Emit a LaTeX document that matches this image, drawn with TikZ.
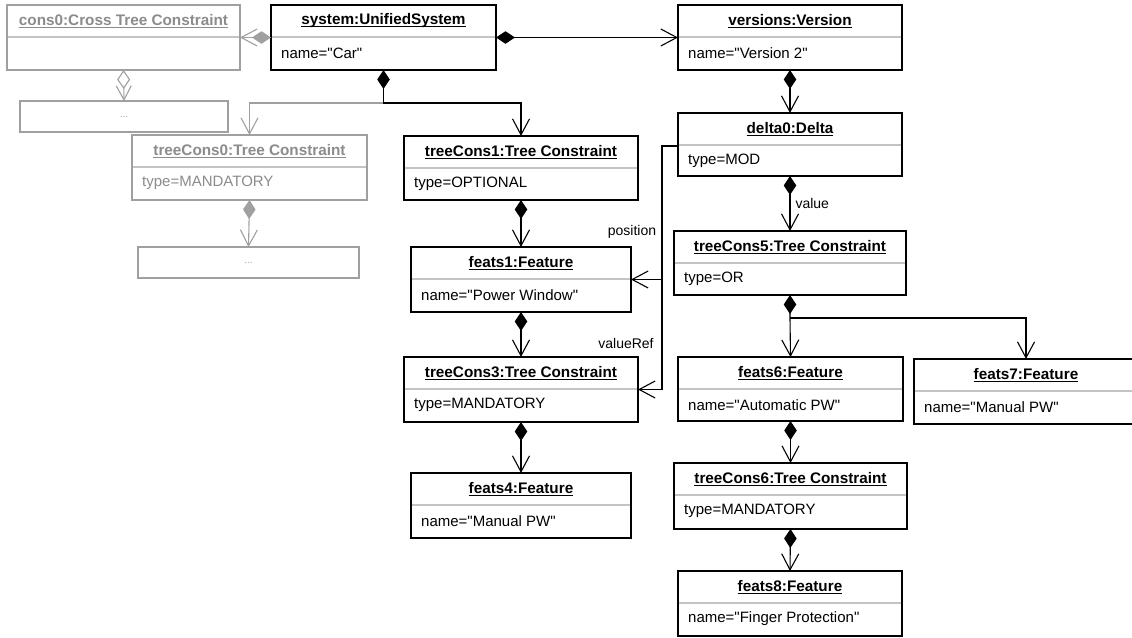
\documentclass[tikz,border=0pt]{standalone}
\usepackage{fontspec}
\setmainfont{Liberation Sans}[Ligatures=TeXOff]
\usetikzlibrary{arrows.meta}

\definecolor{ghost}{HTML}{A0A0A0}
\definecolor{ghostink}{HTML}{8C8C8C}
\definecolor{compartment}{HTML}{C4C4C4}

% underline drawn just below the baseline
\newcommand\titleul[1]{\setbox0\hbox{#1}\rlap{\rule[-2.4pt]{\wd0}{0.9pt}}\box0}

\tikzset{
  x=1pt, y=-1pt,
  live frame/.style={draw=black},
  ghost frame/.style={draw=ghost},
  live ink/.style={text=black},
  ghost ink/.style={text=ghostink},
  objframe/.style={rectangle, line width=1.2pt, inner sep=0pt, outer sep=0pt, fill=white},
  dividerline/.style={draw=compartment, line width=1.3pt, shorten <=0.6pt, shorten >=0.6pt},
  titletext/.style={font=\fontsize{15.3}{18}\selectfont\bfseries, inner sep=0pt},
  attrtext/.style={font=\fontsize{15}{18}\selectfont, inner sep=0pt, anchor=west},
  rolelabel/.style={font=\fontsize{14}{16}\selectfont, inner sep=0pt},
  comp/.style={line width=1.1pt, draw=black,
               {Diamond[length=19pt,width=12.5pt]}-{Straight Barb[length=16pt,width=17pt]}},
  ghostcomp/.style={line width=1.1pt, draw=ghost,
               {Diamond[length=19pt,width=12.5pt]}-{Straight Barb[length=16pt,width=17pt]}},
  ghostagg/.style={line width=1.1pt, draw=ghost,
               {Diamond[open,length=19pt,width=13pt]}-{Straight Barb[length=14pt,width=15pt]}},
  ghostlink/.style={line width=1.1pt, draw=ghost, -{Straight Barb[length=16pt,width=17pt]}},
  link/.style={line width=1.1pt, draw=black, -{Straight Barb[length=16pt,width=17pt]}},
}

% object box: [kind]{name}{x1}{y1}{x2}{y2}{title}{attribute}
\newcommand\umlobject[8][live]{%
  \node[objframe, #1 frame, minimum width={(#5)-(#3)}, minimum height={(#6)-(#4)}]
       (#2) at ({((#3)+(#5))/2},{((#4)+(#6))/2}) {};
  \draw[dividerline] ([yshift=-32pt]#2.north west) -- ([yshift=-32pt]#2.north east);
  \node[titletext, #1 ink] (#2-title) at ([yshift=-16pt]#2.north) {\titleul{#7}};
  \node[attrtext, #1 ink] (#2-attr) at ([xshift=10pt,yshift=-48pt]#2.north west) {#8};
}

% collapsed placeholder box
\newcommand\elided[5]{%
  \node[objframe, ghost frame, minimum width={(#4)-(#2)}, minimum height={(#5)-(#3)},
        text=ghostink!80, font=\fontsize{10}{12}\selectfont]
       (#1) at ({((#2)+(#4))/2},{((#3)+(#5))/2}) {...};
}

\begin{document}
\begin{tikzpicture}
\useasboundingbox (0,0) rectangle (1132,637);
\fill[white] (0,0) rectangle (1132,637);

% objects
\umlobject[ghost]{cons0}{7}{5}{240}{70}{cons0:Cross Tree Constraint}{}
\umlobject{system}{271}{5}{496}{70}{system:UnifiedSystem}{name="Car"}
\umlobject{versions}{678}{5}{902}{70}{versions:Version}{name="Version 2"}
\elided{more0}{20}{101}{228}{132}
\umlobject[ghost]{treeCons0}{132}{135}{367}{200}{treeCons0:Tree Constraint}{type=MANDATORY}
\elided{more1}{138}{247}{359}{278}
\umlobject{treeCons1}{404}{136}{638}{200}{treeCons1:Tree Constraint}{type=OPTIONAL}
\umlobject{delta0}{678}{113}{902}{176}{delta0:Delta}{type=MOD}
\umlobject{feats1}{411}{247}{631}{312}{feats1:Feature}{name="Power Window"}
\umlobject{treeCons5}{674}{231}{906}{295}{treeCons5:Tree Constraint}{type=OR}
\umlobject{treeCons3}{404}{357}{638}{422}{treeCons3:Tree Constraint}{type=MANDATORY}
\umlobject{feats6}{678}{357}{903}{421}{feats6:Feature}{name="Automatic PW"}
\umlobject{feats7}{914}{359}{1138}{424}{feats7:Feature}{name="Manual PW"}
\umlobject{feats4}{411}{473}{631}{538}{feats4:Feature}{name="Manual PW"}
\umlobject{treeCons6}{674}{463}{907}{529}{treeCons6:Tree Constraint}{type=MANDATORY}
\umlobject{feats8}{678}{571}{902}{636}{feats8:Feature}{name="Finger Protection"}

% junction points
\coordinate (sysfork) at (383.5,103);
\coordinate (orfork) at (790,318);
\coordinate (refbus) at (662,146);

% greyed-out part of the tree
\draw[ghostcomp] (system.west) -- (cons0.east);
\draw[ghostagg] (cons0.south) -- (more0.north);
\draw[ghostlink] (sysfork) -| (treeCons0.north);
\draw[ghostcomp] (treeCons0.south) -- (more1.north);

% composition tree
\draw[comp] (system.east) -- (versions.west);
\draw[comp] (system.south) -- (sysfork) -| (treeCons1.north);
\draw[comp] (treeCons1.south) -- (feats1.north);
\draw[comp] (feats1.south) -- (treeCons3.north);
\draw[comp] (treeCons3.south) -- (feats4.north);
\draw[comp] (versions.south) -- (delta0.north);
\draw[comp] (delta0.south) -- node[rolelabel, right=5pt] (valuelbl) {value} (treeCons5.north);
\draw[comp] (treeCons5.south) -- (orfork) -- (feats6.north);
\draw[link] (orfork) -| (feats7.north);
\draw[comp] (feats6.south) -- (treeCons6.north);
\draw[comp] (treeCons6.south) -- (feats8.north);

% delta references
\draw[link] (delta0.west |- refbus) -- (refbus) |- (treeCons3.east);
\draw[link] (refbus |- feats1.east) -- (feats1.east);
\node[rolelabel] (poslbl) at (632,232) {position};
\node[rolelabel] (reflbl) at (626,343) {valueRef};
\end{tikzpicture}
\end{document}
